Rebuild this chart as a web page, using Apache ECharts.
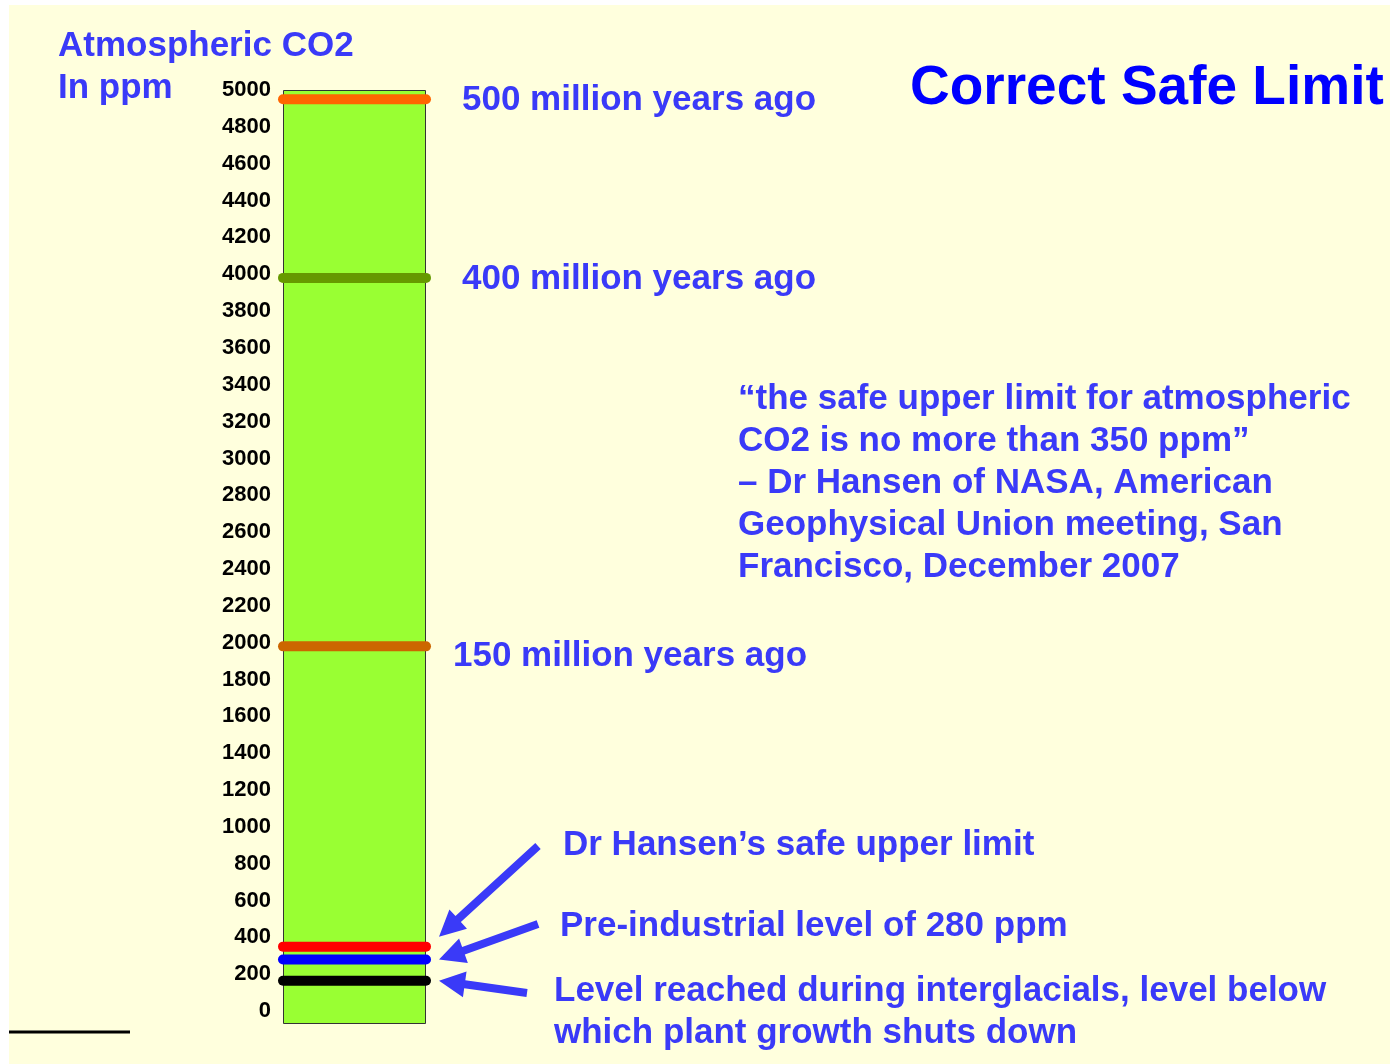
<!DOCTYPE html>
<html lang="en">
<head>
  <meta charset="UTF-8">
  <title>Correct Safe Limit</title>
  <script src="https://cdn.jsdelivr.net/npm/echarts@6/dist/echarts.min.js"></script>
  <style>
    html, body { margin: 0; padding: 0; background: #ffffff; }
    #chart { width: 1390px; height: 1064px; }
  </style>
</head>
<body>
  <div id="chart"></div>

  <script>
    // tick labels on the ppm scale
    const tickValues = [0, 200, 400, 600, 800, 1000, 1200, 1400, 1600, 1800, 2000, 2200, 2400,
      2600, 2800, 3000, 3200, 3400, 3600, 3800, 4000, 4200, 4400, 4600, 4800, 5000];

    // the column itself
    const columnTop = [5000];

    // marked CO2 levels (ppm)
    const levelValues = [4950, 3980, 1980, 350, 280, 165];
    const levelColors = ['#ff6600', '#669900', '#cc6600', '#ff0000', '#0000ff', '#000000'];
    const levelNames = [
      '500 million years ago',
      '400 million years ago',
      '150 million years ago',
      'Dr Hansen\u2019s safe upper limit',
      'Pre-industrial level of 280 ppm',
      'Level reached during interglacials, level below\nwhich plant growth shuts down'
    ];

    const blue = '#3a3af8';
    const font = '"Liberation Sans", Arial, sans-serif';

    const chart = echarts.init(document.getElementById('chart'));

    const option = {
      backgroundColor: '#ffffdd',
      animation: false,
      grid: { left: 283, width: 143, top: 90, bottom: 40 },
      xAxis: { type: 'value', min: 0, max: 1, show: false },
      yAxis: {
        type: 'value',
        min: -70,
        max: 5000,
        axisLine: { show: false },
        axisTick: { show: false },
        splitLine: { show: false },
        axisLabel: {
          customValues: tickValues,
          formatter: v => String(v),
          margin: 12,
          color: '#000',
          fontSize: 22,
          fontWeight: 'bold',
          fontFamily: font
        }
      },
      series: [
        {
          // green column, runs down to the bottom of the frame
          type: 'custom',
          z: 2,
          data: columnTop.map(v => [0, v]),
          renderItem: function (params, api) {
            const top = api.coord([0, api.value(1)]);
            const cs = params.coordSys;
            return {
              type: 'rect',
              shape: { x: cs.x + 0.5, y: top[1] + 0.5, width: cs.width - 1, height: cs.y + cs.height - top[1] - 1 },
              style: { fill: '#99ff33', stroke: '#333333', lineWidth: 1 }
            };
          }
        },
        {
          // coloured level bars
          type: 'custom',
          z: 3,
          data: levelValues.map((v, i) => [0, v, i]),
          renderItem: function (params, api) {
            const y = api.coord([0, api.value(1)])[1];
            const cs = params.coordSys;
            return {
              type: 'line',
              shape: { x1: cs.x, y1: y, x2: cs.x + cs.width, y2: y },
              style: { stroke: levelColors[api.value(2)], lineWidth: 10, lineCap: 'round' }
            };
          }
        }
      ]
    };

    chart.setOption(option);

    function yOf(v) {
      return chart.convertToPixel({ gridIndex: 0 }, [0, v])[1];
    }

    function arrow(sx, sy, tx, ty) {
      const dx = tx - sx, dy = ty - sy;
      const len = Math.sqrt(dx * dx + dy * dy);
      const ux = dx / len, uy = dy / len;
      const nx = -uy, ny = ux;
      const hw = 4, headLen = 26, headW = 13;
      const bx = tx - ux * headLen, by = ty - uy * headLen;
      return {
        type: 'polygon',
        z: 10,
        shape: {
          points: [
            [sx + nx * hw, sy + ny * hw],
            [bx + nx * hw, by + ny * hw],
            [bx + nx * headW, by + ny * headW],
            [tx, ty],
            [bx - nx * headW, by - ny * headW],
            [bx - nx * hw, by - ny * hw],
            [sx - nx * hw, sy - ny * hw]
          ]
        },
        style: { fill: blue }
      };
    }

    function label(text, x, y, opts) {
      return {
        type: 'text',
        z: 10,
        x: x,
        y: y,
        style: Object.assign({
          text: text,
          fill: blue,
          font: 'bold 35px ' + font,
          textVerticalAlign: 'middle',
          lineHeight: 42
        }, opts || {})
      };
    }

    const graphics = [
      // white page margins
      { type: 'rect', z: 1, shape: { x: 0, y: 0, width: 1390, height: 5 }, style: { fill: '#ffffff' } },
      { type: 'rect', z: 1, shape: { x: 0, y: 0, width: 9, height: 1064 }, style: { fill: '#ffffff' } },
      { type: 'line', z: 1, shape: { x1: 9, y1: 1032, x2: 130, y2: 1032 }, style: { stroke: '#000', lineWidth: 3 } },

      label('Atmospheric CO2\nIn ppm', 58, 67),
      label('Correct Safe Limit', 910, 89, { fill: '#0000ff', font: 'bold 55px ' + font }),

      label(levelNames[0], 462, yOf(levelValues[0]) + 1),
      label(levelNames[1], 462, yOf(levelValues[1]) + 1),
      label(levelNames[2], 453, yOf(levelValues[2]) + 10),

      label('\u201cthe safe upper limit for atmospheric\nCO2 is no more than 350 ppm\u201d\n\u2013 Dr Hansen of NASA, American\nGeophysical Union meeting, San\nFrancisco, December 2007', 738, 483),

      label(levelNames[3], 563, 845),
      label(levelNames[4], 560, 926),
      label(levelNames[5], 554, 1012),

      arrow(538, 846, 439, yOf(levelValues[3]) - 10),
      arrow(538, 924, 439, yOf(levelValues[4])),
      arrow(527, 993, 439, yOf(levelValues[5]))
    ];

    chart.setOption({ graphic: graphics });
  </script>
</body>
</html>
